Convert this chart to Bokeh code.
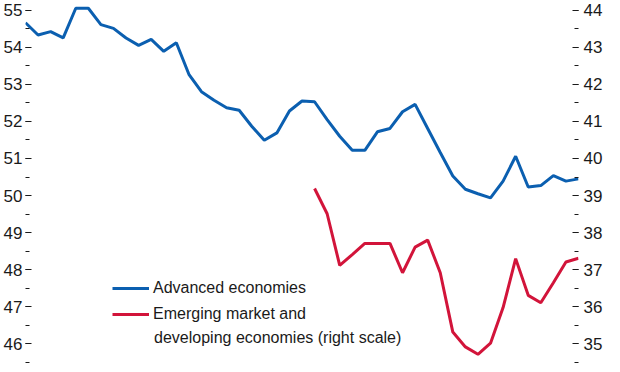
from bokeh.plotting import figure
from bokeh.models import (LinearAxis, Range1d, SingleIntervalTicker, Legend,
                          LegendItem, Label, ColumnDataSource)
from bokeh.embed import file_html
from bokeh.resources import INLINE

# ---- data ----
periods = list(range(45))
advanced = [54.66, 54.33, 54.42, 54.25, 55.05, 55.05, 54.61, 54.51, 54.25, 54.05,
            54.21, 53.89, 54.12, 53.27, 52.80, 52.57, 52.37, 52.30, 51.87, 51.49,
            51.69, 52.28, 52.55, 52.53, 52.05, 51.60, 51.22, 51.22, 51.72, 51.81,
            52.26, 52.46, 51.81, 51.16, 50.53, 50.17, 50.05, 49.94, 50.39, 51.06,
            50.23, 50.27, 50.54, 50.39, 50.45]
emerging_periods = list(range(23, 45))
emerging = [39.19, 38.51, 37.12, 37.41, 37.71, 37.71, 37.71, 36.92, 37.61, 37.80,
            36.92, 35.32, 34.92, 34.72, 35.02, 35.98, 37.30, 36.31, 36.11, 36.65,
            37.21, 37.31]
series_names = ["Advanced economies", "Emerging market and",
                "developing economies (right scale)"]

BLUE = "#0B5FB0"
RED = "#D2143A"
TXT = "#1a1a1a"
FONT = "Liberation Sans"

p = figure(width=620, height=372, output_backend="svg", toolbar_location=None,
           x_range=Range1d(0, 44), y_range=Range1d(45.23, 55.26),
           x_axis_location=None, y_axis_location=None,
           min_border_left=23, min_border_right=42, min_border_top=0,
           min_border_bottom=0)
p.outline_line_color = None
p.grid.visible = False
p.extra_y_ranges = {"right": Range1d(34.23, 44.26)}

def style_axis(ax, standoff):
    ax.ticker = SingleIntervalTicker(interval=1, num_minor_ticks=2)
    ax.axis_line_color = None
    ax.major_tick_in = 6
    ax.major_tick_out = 0
    ax.minor_tick_in = 4
    ax.minor_tick_out = 0
    ax.major_tick_line_color = TXT
    ax.minor_tick_line_color = TXT
    ax.major_tick_line_width = 1
    ax.minor_tick_line_width = 1
    ax.major_label_text_font = FONT
    ax.major_label_text_font_size = "17px"
    ax.major_label_text_color = TXT
    ax.major_label_standoff = standoff

left = LinearAxis()
style_axis(left, 3)
p.add_layout(left, "left")
right = LinearAxis(y_range_name="right")
style_axis(right, 5)
p.add_layout(right, "right")

src_a = ColumnDataSource(dict(x=periods, y=advanced))
src_e = ColumnDataSource(dict(x=emerging_periods, y=emerging))
r_a = p.line("x", "y", source=src_a, line_color=BLUE, line_width=3)
r_e = p.line("x", "y", source=src_e, line_color=RED, line_width=3,
             y_range_name="right")

legend = Legend(items=[LegendItem(label=series_names[0], renderers=[r_a]),
                       LegendItem(label=series_names[1], renderers=[r_e])],
                location=(87, 48), glyph_width=37, glyph_height=20,
                label_height=20, spacing=6, padding=0, margin=0,
                label_standoff=4, border_line_color=None,
                background_fill_alpha=0, label_text_font=FONT,
                label_text_font_size="16px", label_text_color=TXT)
p.add_layout(legend, "center")

p.add_layout(Label(x=10.23, y=46.18, text=series_names[2],
                   text_font=FONT, text_font_size="16px", text_color=TXT,
                   text_baseline="middle", text_align="left"))

open("out.html", "w").write(file_html(p, INLINE))
